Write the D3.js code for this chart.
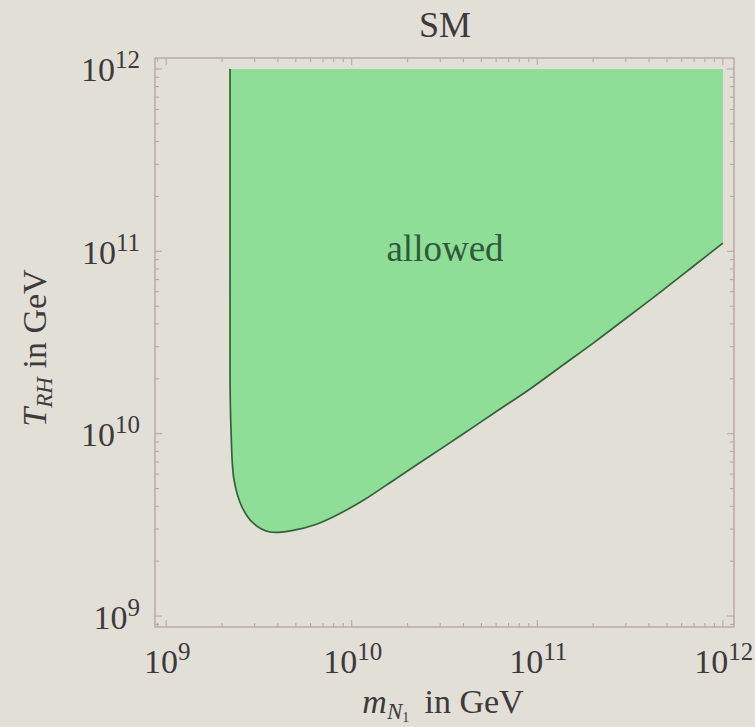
<!DOCTYPE html>
<html>
<head>
<meta charset="utf-8">
<script src="https://cdn.jsdelivr.net/npm/d3@7"></script>
<style>
  html, body { margin: 0; padding: 0; background: #e2e0d6; }
  svg { display: block; }
</style>
</head>
<body>
<svg id="chart" width="755" height="727"></svg>
<script>
// Boundary of the allowed region (heavy neutrino mass vs reheating temperature), in GeV
const massGeV = [2.21e9, 2.21e9, 2.21e9, 2.237e9, 2.322e9, 2.564e9, 2.94e9, 3.63e9, 4.83e9, 6.34e9,
                 8.13e9, 1.15e10, 1.754e10, 2.64e10, 3.98e10, 6.07e10, 9.14e10, 1.375e11,
                 2.07e11, 3.12e11, 4.70e11, 7.07e11, 1e12];
const trhGeV  = [1e12, 1e11, 1.97e10, 1.047e10, 5.58e9, 3.96e9, 3.24e9, 2.89e9, 2.95e9, 3.17e9,
                 3.54e9, 4.30e9, 5.72e9, 7.54e9, 9.96e9, 1.331e10, 1.759e10, 2.38e10,
                 3.22e10, 4.42e10, 6.07e10, 8.41e10, 1.11e11];
const decadeExponents = [9, 10, 11, 12];
const plotTitle = "SM";
const regionLabel = "allowed";

const svg = d3.select("#chart");
const serif = "'Liberation Serif', 'DejaVu Serif', serif";
const frameColor = "#b9a5a2";
const textColor = "#3d393c";

// Frame box; data range padded by 2% on each side
const box = { left: 155, right: 734, top: 58, bottom: 627 };
const padFrac = 0.02;
const innerW = (box.right - box.left) / (1 + 2 * padFrac);
const innerH = (box.bottom - box.top) / (1 + 2 * padFrac);
const lo = 10 ** d3.min(decadeExponents), hi = 10 ** d3.max(decadeExponents);

const x = d3.scaleLog().domain([lo, hi])
  .range([box.left + padFrac * innerW, box.right - padFrac * innerW]);
const y = d3.scaleLog().domain([lo, hi])
  .range([box.bottom - padFrac * innerH, box.top + padFrac * innerH]);

const pts = massGeV.map((m, i) => [m, trhGeV[i]]);

// Filled region: boundary curve, then along the upper-right corner
const boundary = d3.line()
  .x(d => x(d[0])).y(d => y(d[1]))
  .curve(d3.curveCatmullRom.alpha(0.5));
const last = pts[pts.length - 1];
const fillPath = boundary(pts) + `L${x(last[0])},${y(hi)}Z`;

svg.append("path")
  .attr("d", fillPath)
  .attr("fill", "#8fde97")
  .attr("stroke", "none");

svg.append("path")
  .attr("d", boundary(pts))
  .attr("fill", "none")
  .attr("stroke", "#34603c")
  .attr("stroke-width", 1.7);

// Frame
svg.append("rect")
  .attr("x", box.left).attr("y", box.top)
  .attr("width", box.right - box.left).attr("height", box.bottom - box.top)
  .attr("fill", "none").attr("stroke", frameColor).attr("stroke-width", 1.4);

// Tick values inside the framed range
const xDom = [x.invert(box.left), x.invert(box.right)];
const yDom = [y.invert(box.bottom), y.invert(box.top)];
function tickSet(dom) {
  const out = [];
  for (let e = 8; e <= 12; e++) {
    for (let k = 1; k <= 9; k++) {
      const v = k * 10 ** e;
      if (v >= dom[0] && v <= dom[1]) out.push({ v, major: k === 1 });
    }
  }
  return out;
}
const majorLen = 7, minorLen = 4;
const g = svg.append("g").attr("stroke", frameColor).attr("stroke-width", 1.1);
tickSet(xDom).forEach(t => {
  const px = x(t.v), L = t.major ? majorLen : minorLen;
  g.append("line").attr("x1", px).attr("x2", px).attr("y1", box.bottom).attr("y2", box.bottom - L);
  g.append("line").attr("x1", px).attr("x2", px).attr("y1", box.top).attr("y2", box.top + L);
});
tickSet(yDom).forEach(t => {
  const py = y(t.v), L = t.major ? majorLen : minorLen;
  g.append("line").attr("y1", py).attr("y2", py).attr("x1", box.left).attr("x2", box.left + L);
  g.append("line").attr("y1", py).attr("y2", py).attr("x1", box.right).attr("x2", box.right - L);
});

// Power-of-ten tick labels
function powerLabel(sel, e) {
  sel.append("tspan").text("10");
  sel.append("tspan").attr("dy", -13).attr("font-size", 25).text(String(e));
}
decadeExponents.forEach(e => {
  const t = svg.append("text")
    .attr("x", x(10 ** e) + 1).attr("y", 673)
    .attr("text-anchor", "middle")
    .attr("font-family", serif).attr("font-size", 34).attr("fill", textColor);
  powerLabel(t, e);
  const s = svg.append("text")
    .attr("x", 140).attr("y", y(10 ** e) + 12.5)
    .attr("text-anchor", "end")
    .attr("font-family", serif).attr("font-size", 34).attr("fill", textColor);
  powerLabel(s, e);
});

// Title
svg.append("text")
  .attr("x", 445).attr("y", 37)
  .attr("text-anchor", "middle")
  .attr("font-family", serif).attr("font-size", 36).attr("fill", textColor)
  .text(plotTitle);

// Region label
svg.append("text")
  .attr("x", 445).attr("y", 261)
  .attr("text-anchor", "middle")
  .attr("font-family", serif).attr("font-size", 37).attr("fill", "#2f5a37")
  .text(regionLabel);

// Horizontal axis label: m_{N_1} in GeV
const xl = svg.append("text")
  .attr("x", 443).attr("y", 713)
  .attr("text-anchor", "middle")
  .attr("font-family", serif).attr("font-size", 34).attr("fill", textColor);
xl.append("tspan").attr("font-style", "italic").text("m");
xl.append("tspan").attr("font-style", "italic").attr("font-size", 23).attr("dy", 6).text("N");
xl.append("tspan").attr("font-size", 14).attr("dy", 3).text("1");
xl.append("tspan").attr("dy", -9).text("\u2009 in GeV");

// Vertical axis label: T_{RH} in GeV
const yl = svg.append("text")
  .attr("transform", "translate(46,348) rotate(-90)")
  .attr("text-anchor", "middle")
  .attr("font-family", serif).attr("font-size", 34).attr("fill", textColor);
yl.append("tspan").attr("font-style", "italic").text("T");
yl.append("tspan").attr("font-style", "italic").attr("font-size", 23).attr("dy", 6).text("RH");
yl.append("tspan").attr("dy", -6).text(" in GeV");
</script>
</body>
</html>
